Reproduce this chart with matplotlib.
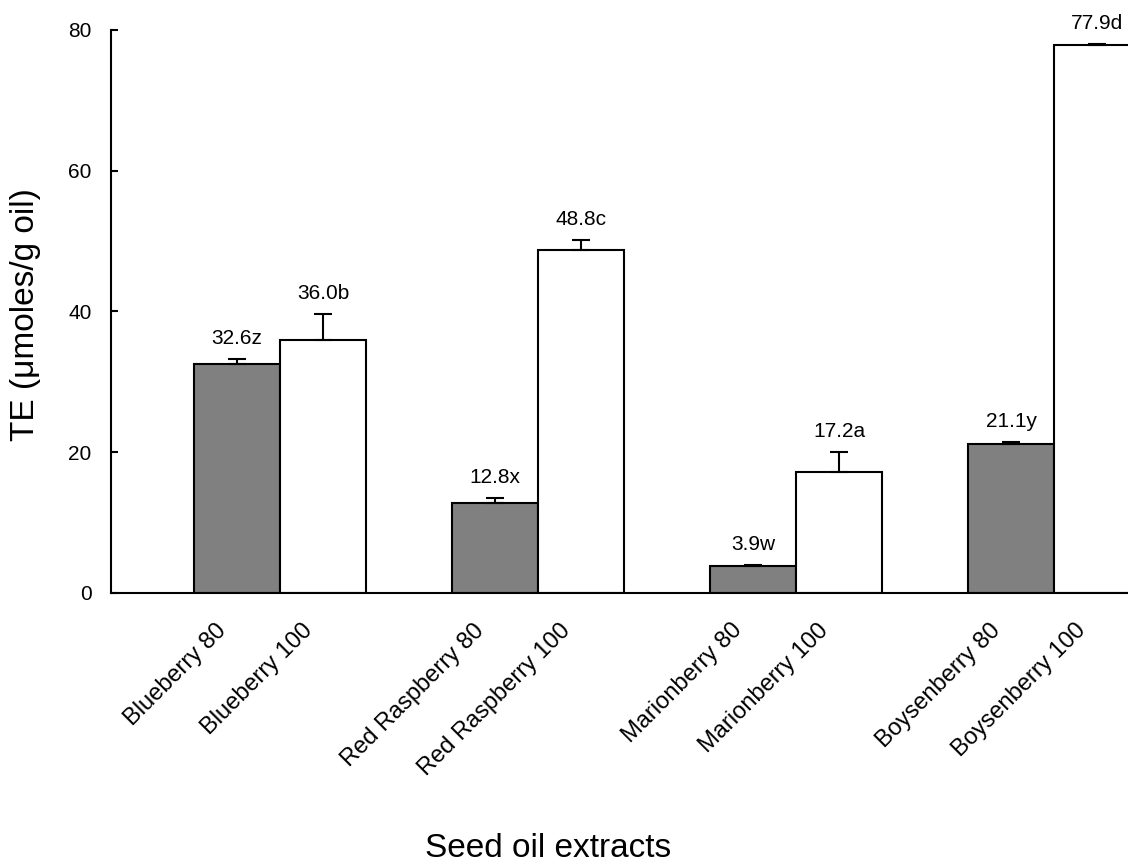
import matplotlib
matplotlib.use("Agg")
import matplotlib.pyplot as plt
import matplotlib.transforms as mtransforms
import numpy as np

plt.rcParams['font.family'] = ['Liberation Sans', 'DejaVu Sans']

# Seed oil extracts: 80 and 100 extraction per berry
berries = ["Blueberry", "Red Raspberry", "Marionberry", "Boysenberry"]
te_80 = [32.6, 12.8, 3.9, 21.1]
te_100 = [36.0, 48.8, 17.2, 77.9]
err_80 = [0.7, 0.7, 0.05, 0.3]
err_100 = [3.6, 1.3, 2.9, 0.05]
letters_80 = ["z", "x", "w", "y"]
letters_100 = ["b", "c", "a", "d"]
tick_labels = []
for b in berries:
    tick_labels += [f"{b} 80", f"{b} 100"]

fig = plt.figure(figsize=(11.28, 8.63), dpi=100)
ax = fig.add_axes([0.0984, 0.3129, 0.986, 0.6524])

x = np.arange(len(berries))
w = 0.333
ebar = dict(ecolor="black", elinewidth=1.5, capsize=6.5, capthick=1.5)

ax.bar(x - w / 2, te_80, w, color="#808080", edgecolor="black", linewidth=1.5,
       yerr=[np.zeros(len(err_80)), err_80], error_kw=ebar, zorder=2)
ax.bar(x + w / 2, te_100, w, color="white", edgecolor="black", linewidth=1.5,
       yerr=[np.zeros(len(err_100)), err_100], error_kw=ebar, zorder=2)

for xi, v, e, l in zip(x - w / 2, te_80, err_80, letters_80):
    ax.annotate(f"{v:.1f}{l}", (xi, v + e), xytext=(0, 10.8), textcoords="offset points",
                ha="center", va="baseline", fontsize=15, annotation_clip=False)
for xi, v, e, l in zip(x + w / 2, te_100, err_100, letters_100):
    ax.annotate(f"{v:.1f}{l}", (xi, v + e), xytext=(0, 10.8), textcoords="offset points",
                ha="center", va="baseline", fontsize=15, annotation_clip=False)

ax.set_xlim(-0.655, 3.655)
ax.set_ylim(0, 80)
ax.set_yticks([0, 20, 40, 60, 80])
ax.tick_params(axis="y", direction="in", length=5, width=1.5, labelsize=15, pad=14)

pos = np.ravel(np.column_stack([x - w / 2, x + w / 2]))
ax.set_xticks(pos)
ax.set_xticklabels(tick_labels, rotation=45, ha="right", va="top",
                   rotation_mode="anchor", fontsize=17)
ax.tick_params(axis="x", length=0, pad=19)
shift = mtransforms.ScaledTranslation(-22 / 100, 0, fig.dpi_scale_trans)
for lbl in ax.get_xticklabels():
    lbl.set_transform(lbl.get_transform() + shift)

for side in ["top", "right"]:
    ax.spines[side].set_visible(False)
for side in ["left", "bottom"]:
    ax.spines[side].set_linewidth(1.5)

fig.text(0.023, 0.636, "TE (\u03bcmoles/g oil)", rotation=90, ha="center", va="center", fontsize=24)
fig.text(0.486, 0.007, "Seed oil extracts", ha="center", va="baseline", fontsize=24)

fig.savefig("out.png", dpi=100)
